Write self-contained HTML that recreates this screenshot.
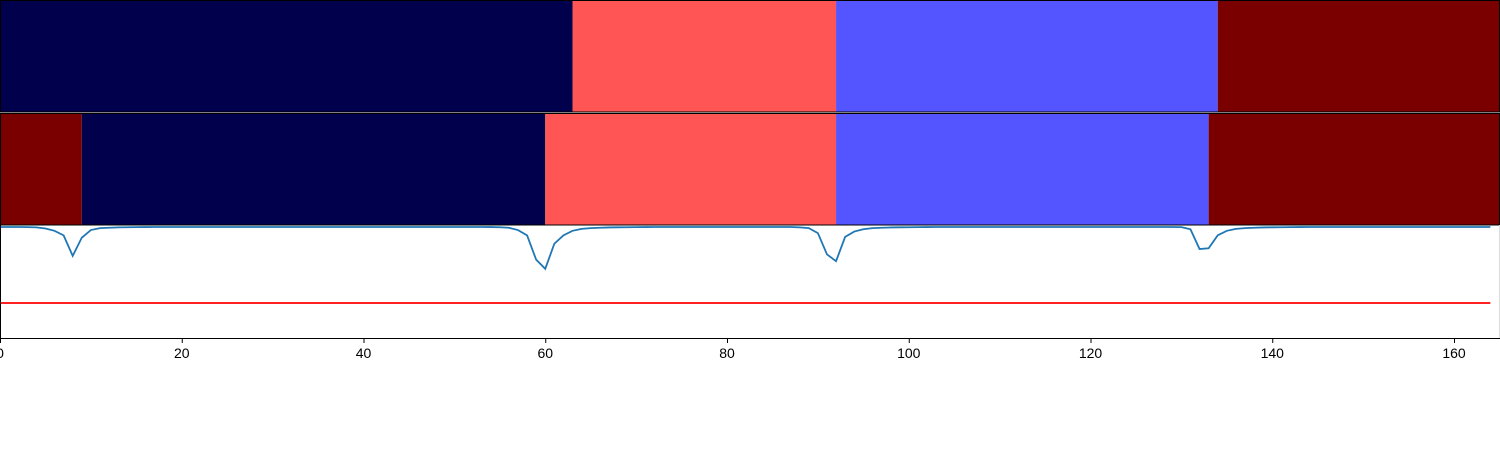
<!DOCTYPE html>
<html><head><meta charset="utf-8"><style>
html,body{margin:0;padding:0;background:#fff;width:1500px;height:450px;overflow:hidden}
svg text{font-family:"Liberation Sans","DejaVu Sans",sans-serif;font-size:14px;fill:#000}
</style></head><body>
<svg id="chart" width="1500" height="450" xmlns="http://www.w3.org/2000/svg"></svg>
<script>
const row1Starts=[0,63,92,134];
const row1Ends=[63,92,134,165];
const row1Colors=["#00004c","#ff5555","#5555ff","#7a0000"];
const row2Starts=[0,9,60,92,133];
const row2Ends=[9,60,92,133,165];
const row2Colors=["#7a0000","#00004c","#ff5555","#5555ff","#7a0000"];
const scoreValues=[
1,1,1,0.998,0.995,0.98,0.95,0.89,0.62,0.86,
0.96,0.985,0.99,0.995,0.997,0.998,0.999,
1,1,1,1,1,1,1,1,1,1,
1,1,1,1,1,1,1,1,1,1,
1,1,1,1,1,1,1,1,1,1,
1,1,1,1,1,1,1,
0.999,0.997,0.99,0.96,0.89,0.57,0.45,
0.78,0.89,0.95,0.975,0.985,0.99,0.994,0.996,0.997,0.998,0.999,
1,1,1,1,1,1,1,1,1,1,
1,1,1,1,1,1,
0.995,0.985,0.92,0.64,0.55,
0.87,0.94,0.97,0.985,0.99,0.994,0.996,0.997,0.998,0.999,
1,1,1,1,1,1,1,1,1,1,
1,1,1,1,1,1,1,1,1,1,
1,1,1,1,1,1,1,
0.998,0.97,0.71,0.72,0.89,0.95,0.975,0.985,0.99,0.994,0.996,0.997,0.998,0.999,
1,1,1,1,1,1,1,1,1,1,
1,1,1,1,1,1,1,1,1,1,
1];
const thresholdValue=0;
const xTicks=[0,20,40,60,80,100,120,140,160];

const NS="http://www.w3.org/2000/svg";
const svg=document.getElementById('chart');
const xs=v=>v*1454/160;
const ys=v=>227+(1-v)*76;
function mk(tag,attrs){const e=document.createElementNS(NS,tag);for(const k in attrs)e.setAttribute(k,attrs[k]);svg.appendChild(e);return e;}

row1Starts.forEach((s,i)=>{
  const r=mk('rect',{x:xs(s),y:0,width:xs(row1Ends[i])-xs(s),height:112,fill:row1Colors[i]});
  
  
});
const f1=mk('rect',{x:0.5,y:0.5,width:1499,height:111.5,fill:'none',stroke:'#000','stroke-width':1});



row2Starts.forEach((s,i)=>{
  const r=mk('rect',{x:xs(s),y:113,width:xs(row2Ends[i])-xs(s),height:112,fill:row2Colors[i]});
  
  
});
const f2=mk('rect',{x:0.5,y:113.5,width:1499,height:111.5,fill:'none',stroke:'#000','stroke-width':1});



const pts=scoreValues.map((v,i)=>xs(i).toFixed(2)+','+ys(v).toFixed(2)).join(' ');
const line=mk('polyline',{points:pts,fill:'none',stroke:'#1f77b4','stroke-width':1.8});


const th=mk('line',{x1:xs(0),x2:xs(scoreValues.length-1),y1:ys(thresholdValue),y2:ys(thresholdValue),stroke:'#ff0000','stroke-width':1.8});



const la=mk('line',{x1:0.5,x2:0.5,y1:225,y2:338,stroke:'#000','stroke-width':1});


const ra=mk('line',{x1:1499.5,x2:1499.5,y1:225,y2:338,stroke:'#ddd','stroke-width':1});


const ba=mk('line',{x1:0,x2:1500,y1:338.5,y2:338.5,stroke:'#000','stroke-width':1});



xTicks.forEach(t=>{
  const tk=mk('line',{x1:xs(t)+0.5,x2:xs(t)+0.5,y1:338,y2:343,stroke:'#000','stroke-width':1});
  
  
  const lb=mk('text',{x:xs(t),y:358,'text-anchor':'middle'});
  lb.textContent=t;
  
  
});
</script>
</body></html>
